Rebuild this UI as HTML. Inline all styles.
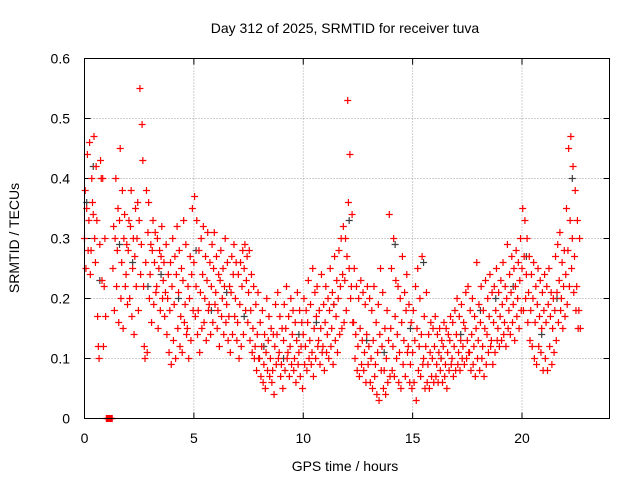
<!DOCTYPE html>
<html><head><meta charset="utf-8"><style>
body{margin:0;background:#fff}
svg{display:block;font-family:"Liberation Sans",sans-serif}
</style></head><body>
<svg id="chart" width="640" height="480" viewBox="0 0 640 480" xmlns="http://www.w3.org/2000/svg">
<rect x="0" y="0" width="640" height="480" fill="#fff"/>
<text x="345" y="33" font-size="14" text-anchor="middle">Day 312 of 2025, SRMTID for receiver tuva</text>
<text x="345" y="471" font-size="14" text-anchor="middle">GPS time / hours</text>
<text transform="translate(19,238) rotate(-90)" font-size="14" text-anchor="middle">SRMTID / TECUs</text>
<g id="grid"></g>
<g id="ticks"></g>
<g id="gray"></g>
<g id="red"></g>
<rect x="84.5" y="58.5" width="525" height="360" fill="none" stroke="#000" stroke-width="1"/>
</svg>
<script>
const xTicks=[0,5,10,15,20];
const yTicks=[0,0.1,0.2,0.3,0.4,0.5,0.6];
const yTickLabels=["0","0.1","0.2","0.3","0.4","0.5","0.6"];
// red series: per 0.1-hour bin, values in hundredths of TECU
const redBins=[
"30 38 25","35 44 28","33 46 24","28 40 36","34 47 30","26 42 33","17 12 10","29 43 40","23 40 12","22 30 17",
"0 0 0","0 0 0","0 0 0","25 32 18","30 40 22","28 35 16","33 45 20","26 38 15","30 34 22","24 29 19",
"28 33 20","32 38 17","25 30 14","27 35 22","30 36 18","33 55 24","29 49 43","22 12 10","26 38 11","31 36 20",
"24 29 16","28 33 19","26 31 21","22 30 15","25 28 18","27 32 20","23 26 17","21 29 14","20 24 11","18 26 09",
"22 30 13","19 27 10","24 32 15","21 28 12","17 25 11","23 33 16","19 29 14","15 22 10","20 27 13","24 35 18",
"26 37 17","22 33 14","18 28 11","21 30 15","24 32 16","20 27 13","23 31 18","19 26 14","22 29 16","25 31 19",
"21 27 15","18 24 12","23 28 17","20 25 14","22 30 16","19 26 13","17 22 11","21 27 14","24 29 17","20 26 13",
"16 24 10","19 26 12","22 28 14","25 29 18","23 27 16","21 28 13","18 24 11","15 22 10","12 19 08","14 21 10",
"10 16 07","12 18 06","09 14 05","11 20 08","13 17 07","10 15 06","08 14 04","12 19 09","14 21 10","11 17 07",
"09 15 05","13 19 08","15 22 10","11 17 07","12 20 09","14 18 08","10 16 06","13 21 09","11 18 07","12 16 05",
"14 20 09","12 18 08","16 23 10","13 19 09","11 25 07","15 21 10","17 22 12","13 18 09","15 24 11","12 19 08",
"16 22 11","14 20 10","18 25 12","15 21 09","19 27 13","17 23 11","20 28 14","22 30 15","24 32 16","23 30 18",
"27 53 36","25 44 20","22 34 16","16 25 10","14 22 08","12 20 07","15 23 09","13 21 08","11 19 06","14 22 09",
"12 20 06","10 18 05","13 22 07","09 16 04","11 19 03","14 25 08","12 21 05","08 15 04","10 18 06","13 34 07",
"15 25 08","12 30 07","17 23 10","14 22 06","11 20 05","16 27 09","13 21 07","18 24 11","12 19 06","09 16 05",
"11 18 06","13 22 03","15 25 08","12 20 07","14 27 09","10 17 05","12 21 06","09 14 05","11 16 07","10 15 06",
"12 17 07","09 14 06","11 15 08","10 13 06","12 16 07","09 15 05","11 14 08","13 17 09","10 16 07","12 18 08",
"14 20 09","11 17 08","13 19 10","12 16 09","15 21 10","13 22 11","11 18 08","14 20 09","12 17 07","15 26 10",
"13 19 08","16 22 10","12 18 07","15 23 09","14 20 11","17 24 12","13 21 09","16 22 11","18 25 13","15 21 12",
"17 23 13","19 26 14","16 22 12","20 29 15","18 24 14","21 27 16","19 25 13","22 28 17","20 26 15","23 30 18",
"25 35 18","27 33 20","24 30 16","21 27 13","18 24 12","20 26 10","16 22 09","19 25 12","17 23 11","15 21 08",
"18 24 10","16 22 08","19 25 12","17 21 09","15 20 11","18 27 13","21 29 16","23 31 18","20 26 15","22 28 17",
"24 35 19","28 45 22","33 47 25","30 42 21","27 38 18","22 33 15","18 30 15"
];
const binHours=0.1;
const grayX=[0.1,0.4,0.7,1.6,2.2,2.9,3.5,4.3,5.1,5.8,6.5,7.3,8.2,9.1,9.8,10.6,11.4,12.1,12.9,13.7,14.2,14.9,15.5,16.3,17.2,18.1,18.8,19.6,20.2,20.9,21.6,22.3];
const grayY=[0.36,0.42,0.23,0.29,0.26,0.22,0.24,0.2,0.28,0.18,0.21,0.17,0.12,0.1,0.14,0.16,0.19,0.33,0.13,0.11,0.29,0.15,0.26,0.1,0.14,0.18,0.2,0.22,0.27,0.14,0.2,0.4];

const L=84.5,R=609.5,T=58.5,B=418.5;
const xs=v=>L+(v/24)*(R-L);
const ys=v=>B-(v/0.6)*(B-T);
const NS="http://www.w3.org/2000/svg";
function mk(tag,parent,attrs){const e=document.createElementNS(NS,tag);for(const k in attrs)e.setAttribute(k,attrs[k]);parent.appendChild(e);return e;}
const grid=document.getElementById('grid'),ticks=document.getElementById('ticks');
xTicks.forEach(t=>{const x=xs(t);
 if(t>0){const g=mk('line',grid,{x1:x,x2:x,y1:T,y2:B,stroke:'#a0a0a0','stroke-dasharray':'1,2'});
 
 }
 mk('line',ticks,{x1:x,x2:x,y1:B,y2:B-6,stroke:'#000'});
 mk('line',ticks,{x1:x,x2:x,y1:T,y2:T+6,stroke:'#000'});
 const tx=mk('text',ticks,{x:x,y:443,'font-size':14,'text-anchor':'middle'});tx.textContent=t;
 
 
});
yTicks.forEach((t,i)=>{const y=ys(t);
 if(t>0&&t<0.6){const g=mk('line',grid,{x1:L,x2:R,y1:y,y2:y,stroke:'#a0a0a0','stroke-dasharray':'1,2'});
 
 }
 mk('line',ticks,{x1:L,x2:L+6,y1:y,y2:y,stroke:'#000'});
 mk('line',ticks,{x1:R,x2:R-6,y1:y,y2:y,stroke:'#000'});
 const tx=mk('text',ticks,{x:70,y:y+5,'font-size':14,'text-anchor':'end'});tx.textContent=yTickLabels[i];
 
 
});
function plus(parent,x,y,color){const p=mk('path',parent,{d:`M${x-3.5},${y}h7M${x},${y-3.5}v7`,stroke:color,'stroke-width':1.2,fill:'none'});return p;}
const gray=document.getElementById('gray'),red=document.getElementById('red');
grayX.forEach((h,i)=>{const p=plus(gray,xs(h),ys(grayY[i]),'#404040');
 
 });
redBins.forEach((s,i)=>{const h=i*binHours;
 s.split(' ').forEach((v,j)=>{const p=plus(red,xs(h+j*0.033),ys(Number(v)/100),'#ff0000');
 
 });});
</script>
</body></html>
